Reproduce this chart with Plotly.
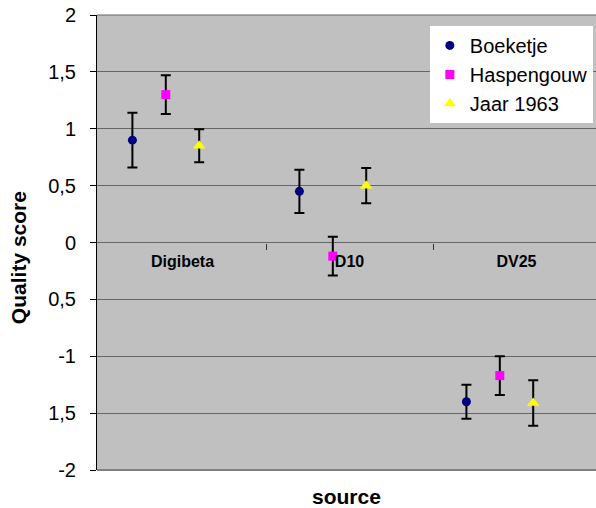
import plotly.graph_objects as go

categories = ["Digibeta", "D10", "DV25"]
series_names = ["Boeketje", "Haspengouw", "Jaar 1963"]
boeketje = [0.90, 0.45, -1.40]
boeketje_err = [0.24, 0.19, 0.15]
haspengouw = [1.30, -0.12, -1.17]
haspengouw_err = [0.17, 0.17, 0.17]
jaar_1963 = [0.85, 0.50, -1.41]
jaar_1963_err = [0.145, 0.155, 0.20]
y_tick_values = [2, 1.5, 1, 0.5, 0, -0.5, -1, -1.5, -2]
y_tick_labels = ["2", "1,5", "1", "0,5", "0", "0,5", "-1", "1,5", "-2"]

FONT = "Arial, Liberation Sans, sans-serif"
styles = [
    dict(color="#000080", symbol="circle", size=9, offset=-0.30),
    dict(color="#FF00FF", symbol="square", size=9, offset=-0.10),
    dict(color="#FFFF00", symbol="triangle-up", size=11, offset=0.10),
]
values = [boeketje, haspengouw, jaar_1963]
errors = [boeketje_err, haspengouw_err, jaar_1963_err]

fig = go.Figure()
for name, vals, errs, st in zip(series_names, values, errors, styles):
    xs = [i + st["offset"] for i in range(len(categories))]
    fig.add_trace(go.Scatter(
        x=xs, y=vals, name=name, mode="markers",
        marker=dict(color=st["color"], symbol=st["symbol"], size=st["size"],
                    line=dict(width=0)),
        error_y=dict(type="data", array=errs, visible=True,
                     color="black", thickness=2, width=5),
    ))

fig.update_layout(
    width=596, height=508,
    margin=dict(l=97, r=0, t=15, b=38, autoexpand=False),
    paper_bgcolor="white",
    plot_bgcolor="#C0C0C0",
    font=dict(family=FONT, size=19, color="black"),
    showlegend=True,
    legend=dict(x=0.667, y=0.976, xanchor="left", yanchor="top",
                bgcolor="white", borderwidth=0,
                font=dict(family=FONT, size=20, color="black"),
                tracegroupgap=0, itemsizing="trace"),
    xaxis=dict(
        range=[-0.512, 2.476], automargin=False,
        tickmode="array", tickvals=list(range(len(categories))),
        ticktext=["<b>%s</b>" % c for c in categories],
        tickfont=dict(family=FONT, size=16, color="black"),
        ticks="", showgrid=False, zeroline=False, showline=False,
        anchor="free", position=0.5,
        ticklabelstandoff=7,
        minor=dict(tickvals=[0.5, 1.5], ticks="outside", ticklen=6,
                   tickcolor="#333333", tickwidth=1, showgrid=False),
    ),
    yaxis=dict(
        range=[-2, 2], automargin=False,
        tickmode="array", tickvals=y_tick_values, ticktext=y_tick_labels,
        tickfont=dict(family=FONT, size=20, color="black"),
        ticks="outside", ticklen=6, tickcolor="black", tickwidth=1,
        showgrid=True, gridcolor="#666666", gridwidth=1,
        zeroline=False, showline=True, linecolor="black", linewidth=1,
        ticklabelstandoff=10, ticklabeloverflow="allow",
    ),
    shapes=[
        dict(type="line", xref="paper", yref="paper", x0=0, x1=1, y0=0, y1=0,
             line=dict(color="#808080", width=2)),
        dict(type="line", xref="paper", yref="paper", x0=0, x1=1, y0=1, y1=1,
             line=dict(color="#666666", width=1)),
    ],
    annotations=[
        dict(text="<b>source</b>", xref="paper", yref="paper", x=0.5, y=-0.059,
             xanchor="center", yanchor="middle", showarrow=False,
             font=dict(family=FONT, size=21, color="black")),
        dict(text="<b>Quality score</b>", xref="paper", yref="paper", x=-0.156,
             y=0.466, xanchor="center", yanchor="middle", textangle=-90,
             showarrow=False, borderpad=0,
             font=dict(family=FONT, size=21, color="black")),
    ],
)

fig.write_html(
    "out.html",
    config={"displayModeBar": False},
    post_script="document.body.style.margin='0';document.body.style.overflow='hidden';",
)
